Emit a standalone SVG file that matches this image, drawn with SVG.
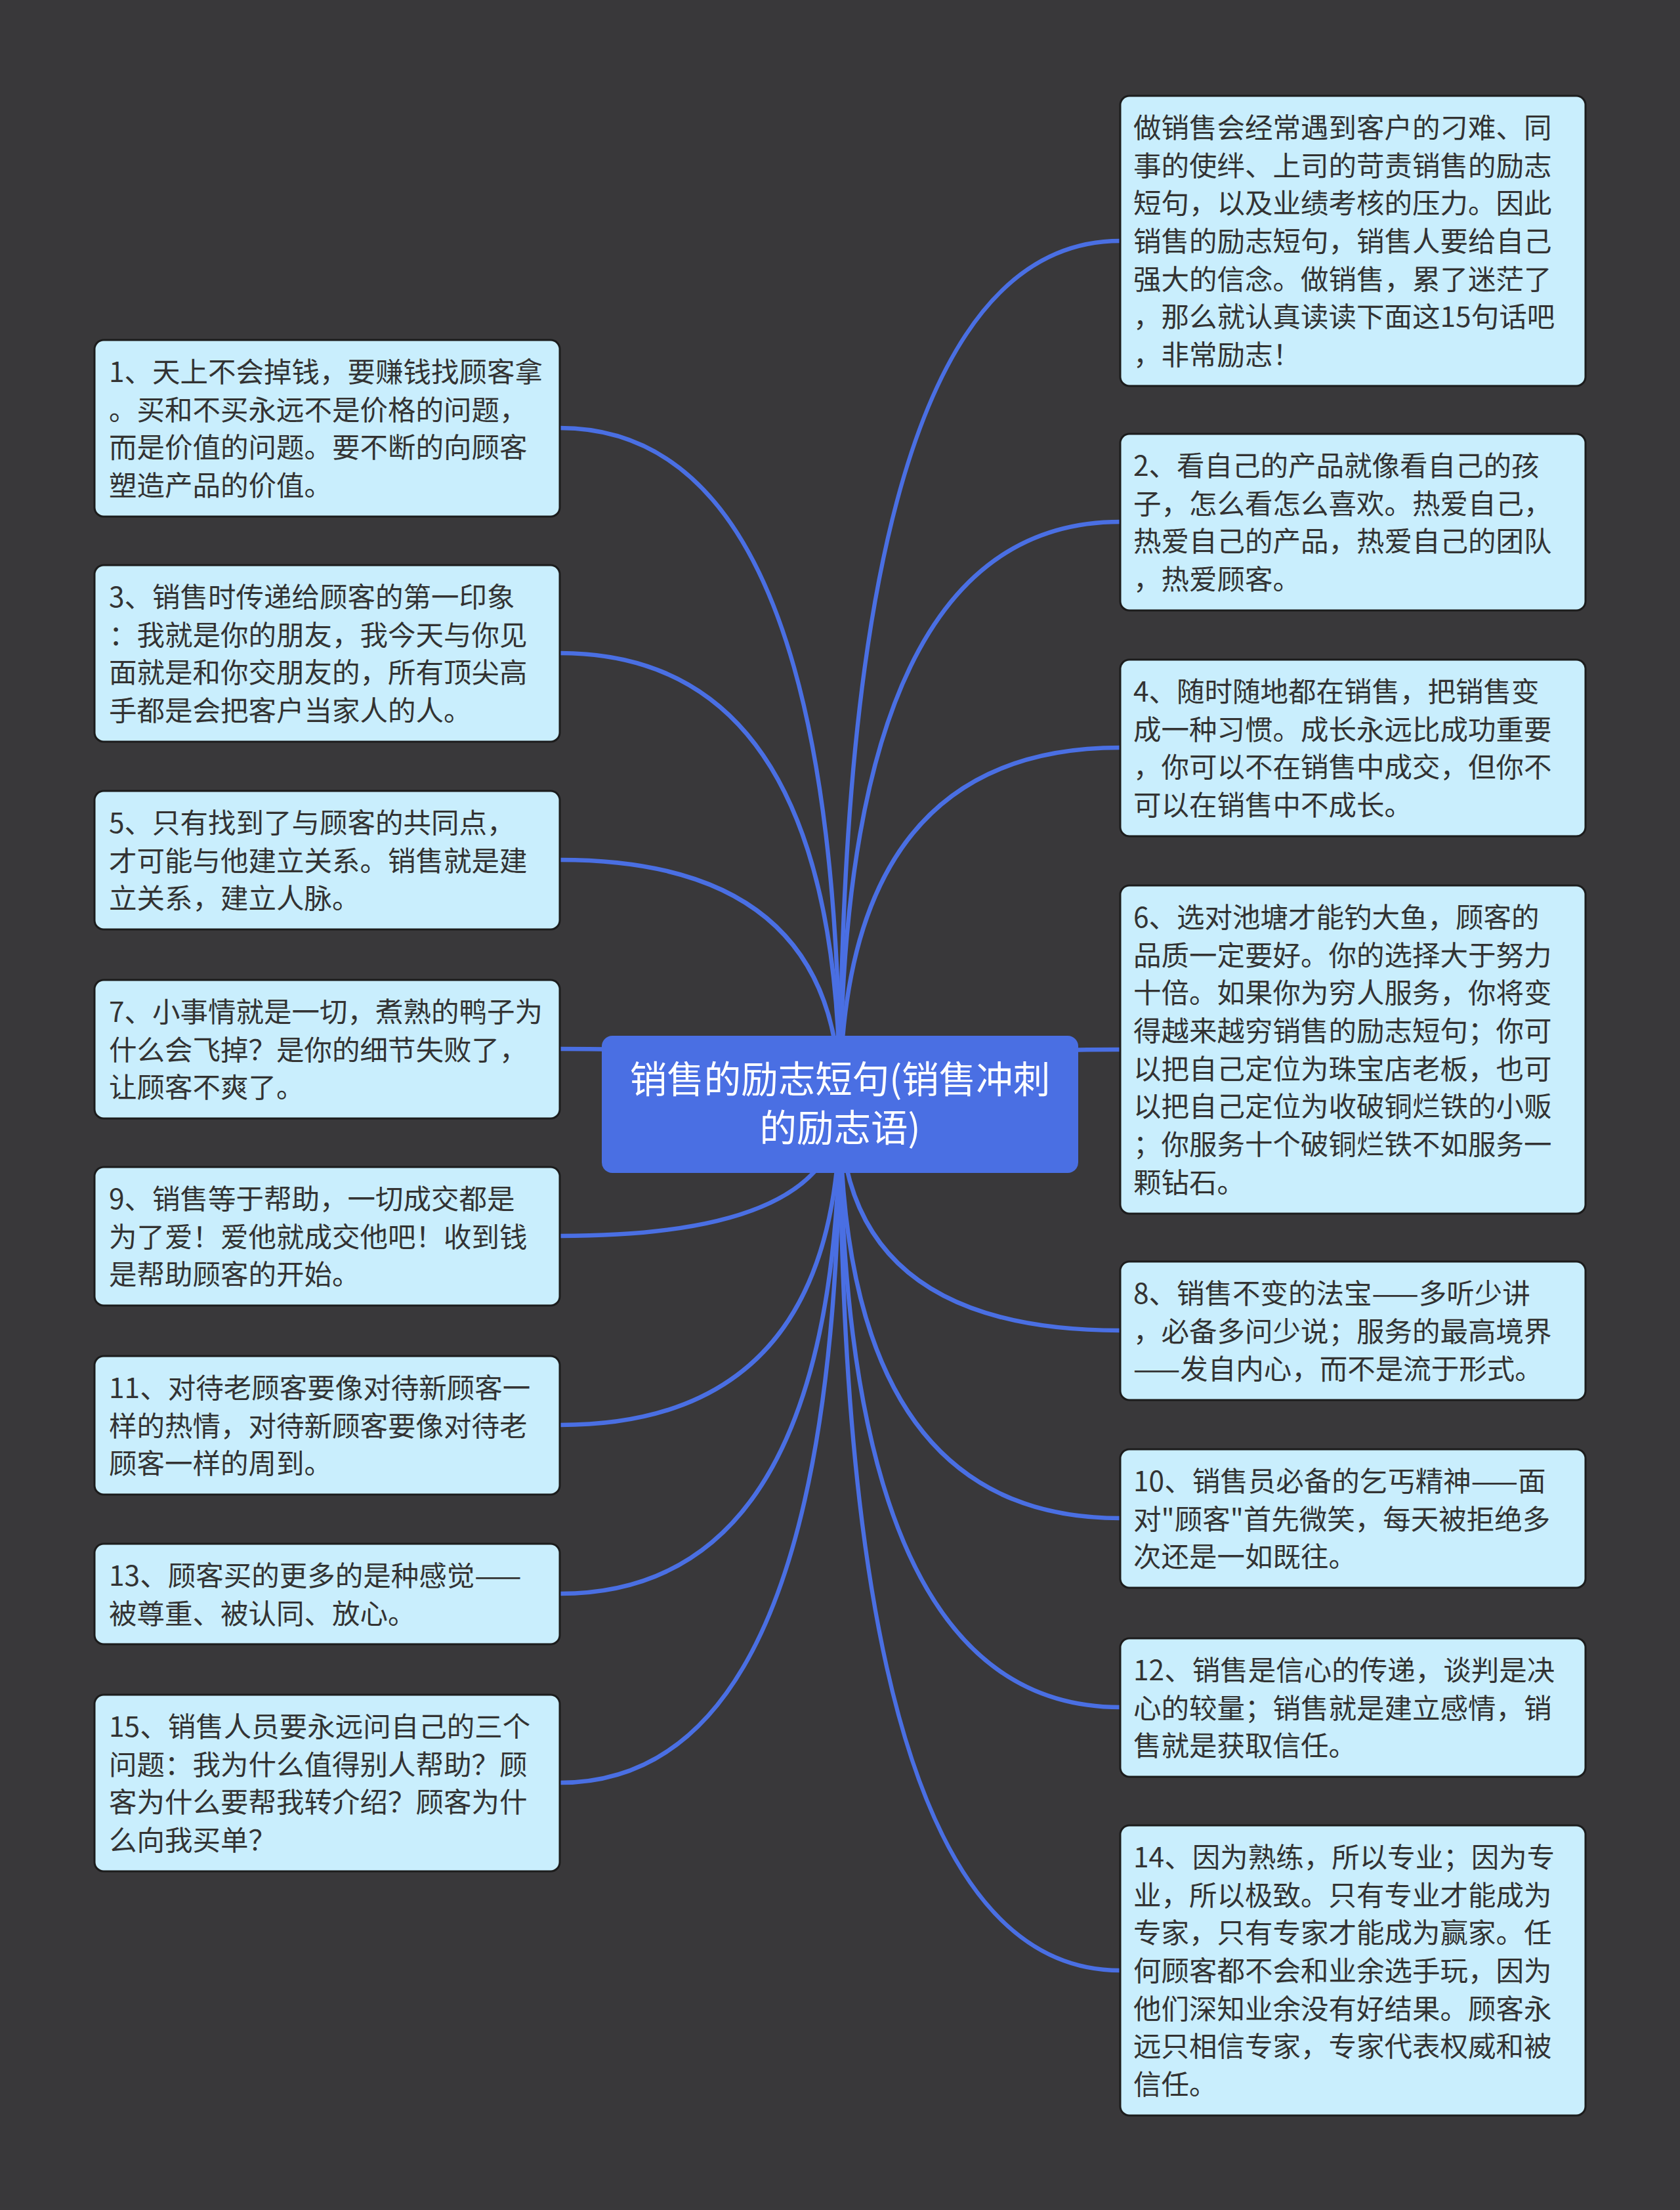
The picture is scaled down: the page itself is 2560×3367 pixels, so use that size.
<svg xmlns="http://www.w3.org/2000/svg" width="2560" height="3367" viewBox="0 0 2560 3367">
<style>
.bg{fill:#39383a}
.box{fill:#c9eefd;stroke:#1c1c1c;stroke-width:3}
.root{fill:#4a6fe3}
.t{font-family:"Noto Sans CJK SC","Noto Sans",sans-serif;font-size:42.5px;fill:#333333}
.rt{font-family:"Noto Sans CJK SC","Noto Sans",sans-serif;font-size:56.5px;fill:#ffffff;text-anchor:middle}
.c{fill:none;stroke:#4a6fe3;stroke-width:6.5;stroke-linecap:round}
</style>
<rect class="bg" x="0" y="0" width="2560" height="3367"/>
<g id="connectors">
<path class="c" d="M1280,1682 Q1280,367 1707,367"/>
<path class="c" d="M1280,1682 Q1280,795 1707,795"/>
<path class="c" d="M1280,1682 Q1280,1139 1707,1139"/>
<path class="c" d="M1280,1682 Q1280,1599 1707,1599"/>
<path class="c" d="M1280,1682 Q1280,2027 1707,2027"/>
<path class="c" d="M1280,1682 Q1280,2313 1707,2313"/>
<path class="c" d="M1280,1682 Q1280,2601 1707,2601"/>
<path class="c" d="M1280,1682 Q1280,3002 1707,3002"/>
<path class="c" d="M1280,1682 Q1280,652 853,652"/>
<path class="c" d="M1280,1682 Q1280,995 853,995"/>
<path class="c" d="M1280,1682 Q1280,1310 853,1310"/>
<path class="c" d="M1280,1682 Q1280,1598 853,1598"/>
<path class="c" d="M1280,1682 Q1280,1883 853,1883"/>
<path class="c" d="M1280,1682 Q1280,2171 853,2171"/>
<path class="c" d="M1280,1682 Q1280,2428 853,2428"/>
<path class="c" d="M1280,1682 Q1280,2716 853,2716"/>
</g>
<g id="root">
<rect class="root" x="917" y="1578" width="726" height="209" rx="16"/>
<text class="rt" x="1280" y="1665">销售的励志短句(销售冲刺</text>
<text class="rt" x="1280" y="1739">的励志语)</text>
</g>
<g id="r0">
<rect class="box" x="1707" y="146" width="709" height="442" rx="14"/>
<text class="t" x="1727" y="210">做销售会经常遇到客户的刁难、同</text>
<text class="t" x="1727" y="268">事的使绊、上司的苛责销售的励志</text>
<text class="t" x="1727" y="325">短句，以及业绩考核的压力。因此</text>
<text class="t" x="1727" y="383">销售的励志短句，销售人要给自己</text>
<text class="t" x="1727" y="441">强大的信念。做销售，累了迷茫了</text>
<text class="t" x="1727" y="498">，那么就认真读读下面这15句话吧</text>
<text class="t" x="1727" y="556">，非常励志！</text>
</g>
<g id="r2">
<rect class="box" x="1707" y="661" width="709" height="269" rx="14"/>
<text class="t" x="1727" y="725">2、看自己的产品就像看自己的孩</text>
<text class="t" x="1727" y="783">子，怎么看怎么喜欢。热爱自己，</text>
<text class="t" x="1727" y="840">热爱自己的产品，热爱自己的团队</text>
<text class="t" x="1727" y="898">，热爱顾客。</text>
</g>
<g id="r4">
<rect class="box" x="1707" y="1005" width="709" height="269" rx="14"/>
<text class="t" x="1727" y="1069">4、随时随地都在销售，把销售变</text>
<text class="t" x="1727" y="1127">成一种习惯。成长永远比成功重要</text>
<text class="t" x="1727" y="1184">，你可以不在销售中成交，但你不</text>
<text class="t" x="1727" y="1242">可以在销售中不成长。</text>
</g>
<g id="r6">
<rect class="box" x="1707" y="1349" width="709" height="500" rx="14"/>
<text class="t" x="1727" y="1413">6、选对池塘才能钓大鱼，顾客的</text>
<text class="t" x="1727" y="1471">品质一定要好。你的选择大于努力</text>
<text class="t" x="1727" y="1528">十倍。如果你为穷人服务，你将变</text>
<text class="t" x="1727" y="1586">得越来越穷销售的励志短句；你可</text>
<text class="t" x="1727" y="1644">以把自己定位为珠宝店老板，也可</text>
<text class="t" x="1727" y="1701">以把自己定位为收破铜烂铁的小贩</text>
<text class="t" x="1727" y="1759">；你服务十个破铜烂铁不如服务一</text>
<text class="t" x="1727" y="1817">颗钻石。</text>
</g>
<g id="r8">
<rect class="box" x="1707" y="1922" width="709" height="211" rx="14"/>
<text class="t" x="1727" y="1986">8、销售不变的法宝——多听少讲</text>
<text class="t" x="1727" y="2044">，必备多问少说；服务的最高境界</text>
<text class="t" x="1727" y="2101">——发自内心，而不是流于形式。</text>
</g>
<g id="r10">
<rect class="box" x="1707" y="2208" width="709" height="211" rx="14"/>
<text class="t" x="1727" y="2272">10、销售员必备的乞丐精神——面</text>
<text class="t" x="1727" y="2330">对"顾客"首先微笑，每天被拒绝多</text>
<text class="t" x="1727" y="2387">次还是一如既往。</text>
</g>
<g id="r12">
<rect class="box" x="1707" y="2496" width="709" height="211" rx="14"/>
<text class="t" x="1727" y="2560">12、销售是信心的传递，谈判是决</text>
<text class="t" x="1727" y="2618">心的较量；销售就是建立感情，销</text>
<text class="t" x="1727" y="2675">售就是获取信任。</text>
</g>
<g id="r14">
<rect class="box" x="1707" y="2781" width="709" height="442" rx="14"/>
<text class="t" x="1727" y="2845">14、因为熟练，所以专业；因为专</text>
<text class="t" x="1727" y="2903">业，所以极致。只有专业才能成为</text>
<text class="t" x="1727" y="2960">专家，只有专家才能成为赢家。任</text>
<text class="t" x="1727" y="3018">何顾客都不会和业余选手玩，因为</text>
<text class="t" x="1727" y="3076">他们深知业余没有好结果。顾客永</text>
<text class="t" x="1727" y="3133">远只相信专家，专家代表权威和被</text>
<text class="t" x="1727" y="3191">信任。</text>
</g>
<g id="l1">
<rect class="box" x="144" y="518" width="709" height="269" rx="14"/>
<text class="t" x="166" y="582">1、天上不会掉钱，要赚钱找顾客拿</text>
<text class="t" x="166" y="640">。买和不买永远不是价格的问题，</text>
<text class="t" x="166" y="697">而是价值的问题。要不断的向顾客</text>
<text class="t" x="166" y="755">塑造产品的价值。</text>
</g>
<g id="l3">
<rect class="box" x="144" y="861" width="709" height="269" rx="14"/>
<text class="t" x="166" y="925">3、销售时传递给顾客的第一印象</text>
<text class="t" x="166" y="983">：我就是你的朋友，我今天与你见</text>
<text class="t" x="166" y="1040">面就是和你交朋友的，所有顶尖高</text>
<text class="t" x="166" y="1098">手都是会把客户当家人的人。</text>
</g>
<g id="l5">
<rect class="box" x="144" y="1205" width="709" height="211" rx="14"/>
<text class="t" x="166" y="1269">5、只有找到了与顾客的共同点，</text>
<text class="t" x="166" y="1327">才可能与他建立关系。销售就是建</text>
<text class="t" x="166" y="1384">立关系，建立人脉。</text>
</g>
<g id="l7">
<rect class="box" x="144" y="1493" width="709" height="211" rx="14"/>
<text class="t" x="166" y="1557">7、小事情就是一切，煮熟的鸭子为</text>
<text class="t" x="166" y="1615">什么会飞掉？是你的细节失败了，</text>
<text class="t" x="166" y="1672">让顾客不爽了。</text>
</g>
<g id="l9">
<rect class="box" x="144" y="1778" width="709" height="211" rx="14"/>
<text class="t" x="166" y="1842">9、销售等于帮助，一切成交都是</text>
<text class="t" x="166" y="1900">为了爱！爱他就成交他吧！收到钱</text>
<text class="t" x="166" y="1957">是帮助顾客的开始。</text>
</g>
<g id="l11">
<rect class="box" x="144" y="2066" width="709" height="211" rx="14"/>
<text class="t" x="166" y="2130">11、对待老顾客要像对待新顾客一</text>
<text class="t" x="166" y="2188">样的热情，对待新顾客要像对待老</text>
<text class="t" x="166" y="2245">顾客一样的周到。</text>
</g>
<g id="l13">
<rect class="box" x="144" y="2352" width="709" height="153" rx="14"/>
<text class="t" x="166" y="2416">13、顾客买的更多的是种感觉——</text>
<text class="t" x="166" y="2474">被尊重、被认同、放心。</text>
</g>
<g id="l15">
<rect class="box" x="144" y="2582" width="709" height="269" rx="14"/>
<text class="t" x="166" y="2646">15、销售人员要永远问自己的三个</text>
<text class="t" x="166" y="2704">问题：我为什么值得别人帮助？顾</text>
<text class="t" x="166" y="2761">客为什么要帮我转介绍？顾客为什</text>
<text class="t" x="166" y="2819">么向我买单？</text>
</g>
</svg>
